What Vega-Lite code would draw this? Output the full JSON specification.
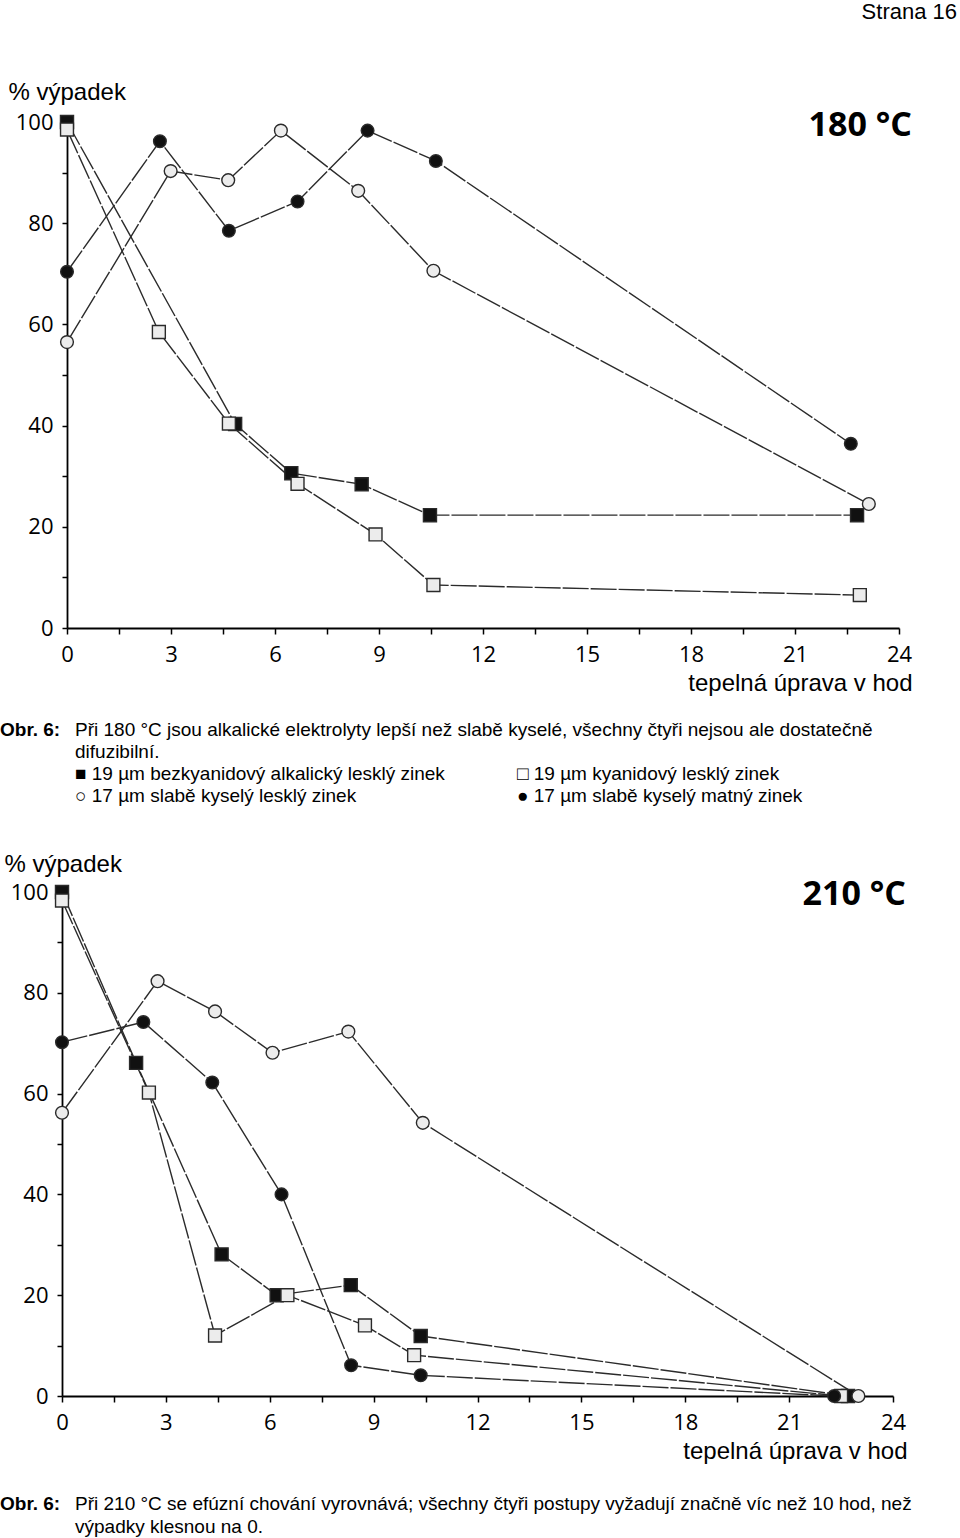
{
  "$schema": "https://vega.github.io/schema/vega-lite/v6.json",
  "padding": {"top": 1, "left": 0, "right": 0, "bottom": 0},
  "background": "white",
  "title": {"text": "Strana 16", "anchor": "end", "frame": "bounds", "font": "Liberation Sans", "fontSize": 22, "fontWeight": "normal", "color": "black", "offset": 0, "dx": -3},
  "spacing": 0,
  "bounds": "flush",
  "datasets": {
    "d180": [
      {"s": "19 µm bezkyanidový alkalický lesklý zinek", "t": 0, "v": 100},
      {"s": "19 µm bezkyanidový alkalický lesklý zinek", "t": 4.85, "v": 40.3},
      {"s": "19 µm bezkyanidový alkalický lesklý zinek", "t": 6.47, "v": 30.6},
      {"s": "19 µm bezkyanidový alkalický lesklý zinek", "t": 8.5, "v": 28.4},
      {"s": "19 µm bezkyanidový alkalický lesklý zinek", "t": 10.47, "v": 22.3},
      {"s": "19 µm bezkyanidový alkalický lesklý zinek", "t": 22.79, "v": 22.3},
      {"s": "19 µm kyanidový lesklý zinek", "t": 0, "v": 98.5},
      {"s": "19 µm kyanidový lesklý zinek", "t": 2.65, "v": 58.5},
      {"s": "19 µm kyanidový lesklý zinek", "t": 4.67, "v": 40.4},
      {"s": "19 µm kyanidový lesklý zinek", "t": 6.65, "v": 28.5},
      {"s": "19 µm kyanidový lesklý zinek", "t": 8.9, "v": 18.5},
      {"s": "19 µm kyanidový lesklý zinek", "t": 10.57, "v": 8.5},
      {"s": "19 µm kyanidový lesklý zinek", "t": 22.87, "v": 6.5},
      {"s": "17 µm slabě kyselý lesklý zinek", "t": 0, "v": 56.5},
      {"s": "17 µm slabě kyselý lesklý zinek", "t": 2.99, "v": 90.3},
      {"s": "17 µm slabě kyselý lesklý zinek", "t": 4.65, "v": 88.5},
      {"s": "17 µm slabě kyselý lesklý zinek", "t": 6.17, "v": 98.3},
      {"s": "17 µm slabě kyselý lesklý zinek", "t": 8.4, "v": 86.4},
      {"s": "17 µm slabě kyselý lesklý zinek", "t": 10.57, "v": 70.6},
      {"s": "17 µm slabě kyselý lesklý zinek", "t": 23.13, "v": 24.5},
      {"s": "17 µm slabě kyselý matný zinek", "t": 0, "v": 70.4},
      {"s": "17 µm slabě kyselý matný zinek", "t": 2.68, "v": 96.2},
      {"s": "17 µm slabě kyselý matný zinek", "t": 4.67, "v": 78.5},
      {"s": "17 µm slabě kyselý matný zinek", "t": 6.65, "v": 84.3},
      {"s": "17 µm slabě kyselý matný zinek", "t": 8.67, "v": 98.3},
      {"s": "17 µm slabě kyselý matný zinek", "t": 10.64, "v": 92.3},
      {"s": "17 µm slabě kyselý matný zinek", "t": 22.61, "v": 36.4}
    ],
    "d210": [
      {"s": "19 µm bezkyanidový alkalický lesklý zinek", "t": 0, "v": 100},
      {"s": "19 µm bezkyanidový alkalický lesklý zinek", "t": 2.14, "v": 66.1},
      {"s": "19 µm bezkyanidový alkalický lesklý zinek", "t": 4.61, "v": 28.1},
      {"s": "19 µm bezkyanidový alkalický lesklý zinek", "t": 6.2, "v": 20},
      {"s": "19 µm bezkyanidový alkalický lesklý zinek", "t": 8.34, "v": 22},
      {"s": "19 µm bezkyanidový alkalický lesklý zinek", "t": 10.36, "v": 11.9},
      {"s": "19 µm bezkyanidový alkalický lesklý zinek", "t": 22.7, "v": 0},
      {"s": "19 µm kyanidový lesklý zinek", "t": 0, "v": 98.3},
      {"s": "19 µm kyanidový lesklý zinek", "t": 2.51, "v": 60.2},
      {"s": "19 µm kyanidový lesklý zinek", "t": 4.42, "v": 12},
      {"s": "19 µm kyanidový lesklý zinek", "t": 6.51, "v": 20},
      {"s": "19 µm kyanidový lesklý zinek", "t": 8.75, "v": 14},
      {"s": "19 µm kyanidový lesklý zinek", "t": 10.17, "v": 8.1},
      {"s": "19 µm kyanidový lesklý zinek", "t": 22.5, "v": 0},
      {"s": "17 µm slabě kyselý lesklý zinek", "t": 0, "v": 56.2},
      {"s": "17 µm slabě kyselý lesklý zinek", "t": 2.76, "v": 82.3},
      {"s": "17 µm slabě kyselý lesklý zinek", "t": 4.42, "v": 76.3},
      {"s": "17 µm slabě kyselý lesklý zinek", "t": 6.08, "v": 68.1},
      {"s": "17 µm slabě kyselý lesklý zinek", "t": 8.27, "v": 72.3},
      {"s": "17 µm slabě kyselý lesklý zinek", "t": 10.42, "v": 54.2},
      {"s": "17 µm slabě kyselý lesklý zinek", "t": 23.0, "v": 0},
      {"s": "17 µm slabě kyselý matný zinek", "t": 0, "v": 70.2},
      {"s": "17 µm slabě kyselý matný zinek", "t": 2.35, "v": 74.2},
      {"s": "17 µm slabě kyselý matný zinek", "t": 4.34, "v": 62.2},
      {"s": "17 µm slabě kyselý matný zinek", "t": 6.34, "v": 40},
      {"s": "17 µm slabě kyselý matný zinek", "t": 8.35, "v": 6.1},
      {"s": "17 µm slabě kyselý matný zinek", "t": 10.36, "v": 4.1},
      {"s": "17 µm slabě kyselý matný zinek", "t": 22.3, "v": 0}
    ],
    "cap1": [
      {"col": 0, "line": 1, "bold": true, "text": "Obr. 6:"},
      {"col": 1, "line": 1, "bold": false, "text": "Při 180 °C jsou alkalické elektrolyty lepší než slabě kyselé, všechny čtyři nejsou ale dostatečně"},
      {"col": 1, "line": 2, "bold": false, "text": "difuzibilní."},
      {"col": 1, "line": 3, "bold": false, "text": "■ 19 µm bezkyanidový alkalický lesklý zinek"},
      {"col": 2, "line": 3, "bold": false, "text": "□ 19 µm kyanidový lesklý zinek"},
      {"col": 1, "line": 4, "bold": false, "text": "○ 17 µm slabě kyselý lesklý zinek"},
      {"col": 2, "line": 4, "bold": false, "text": "● 17 µm slabě kyselý matný zinek"}
    ],
    "cap2": [
      {"col": 0, "line": 1, "bold": true, "text": "Obr. 6:"},
      {"col": 1, "line": 1, "bold": false, "text": "Při 210 °C se efúzní chování vyrovnává; všechny čtyři postupy vyžadují značně víc než 10 hod, než"},
      {"col": 1, "line": 2, "bold": false, "text": "výpadky klesnou na 0."}
    ]
  },
  "vconcat": [
    {"width": 960, "height": 98, "data": {"values": []}, "mark": "point"},
    {
      "width": 960,
      "height": 506,
      "data": {"name": "d180"},
      "layer": [
        {"mark": {"type": "line", "color": "#2b2b2b", "strokeWidth": 1.4, "strokeDash": [26, 2]},
         "encoding": {
           "x": {"field": "t", "type": "quantitative", "scale": {"domain": [0, 24], "range": [67, 899], "nice": false},
             "axis": {"title": "tepelná úprava v hod", "values": [0, 1.5, 3, 4.5, 6, 7.5, 9, 10.5, 12, 13.5, 15, 16.5, 18, 19.5, 21, 22.5, 24],
               "labelExpr": "datum.value % 3 === 0 ? datum.label : ''", "labelFlush": false, "labelOverlap": false, "grid": false,
               "tickSize": 6, "tickWidth": 1.5, "tickColor": "black", "domainColor": "black", "domainWidth": 1.8,
               "labelFont": "Open Sans", "labelFontSize": 22, "labelColor": "black", "labelPadding": 10,
               "titleFont": "Liberation Sans", "titleFontSize": 24, "titleFontWeight": "normal", "titleColor": "black",
               "titleAlign": "right", "titleX": 912, "titleY": 62, "titleBaseline": "alphabetic"}},
           "y": {"field": "v", "type": "quantitative", "scale": {"domain": [0, 100], "nice": false},
             "axis": {"title": "% výpadek", "offset": -67, "values": [0, 10, 20, 30, 40, 50, 60, 70, 80, 90, 100],
               "labelExpr": "datum.value % 20 === 0 ? datum.label : ''", "labelFlush": false, "labelOverlap": false, "grid": false,
               "tickSize": 5, "tickWidth": 1.5, "tickColor": "black", "domainColor": "black", "domainWidth": 1.8,
               "labelFont": "Open Sans", "labelFontSize": 22, "labelColor": "black", "labelPadding": 9,
               "titleFont": "Liberation Sans", "titleFontSize": 24, "titleFontWeight": "normal", "titleColor": "black",
               "titleAngle": 0, "titleAlign": "left", "titleBaseline": "alphabetic", "titleX": -59, "titleY": -23}},
           "detail": {"field": "s"}
         }},
        {"mark": {"type": "point", "filled": true, "stroke": "#2a2a2a", "strokeWidth": 1.4, "opacity": 1},
         "encoding": {
           "x": {"field": "t", "type": "quantitative"},
           "y": {"field": "v", "type": "quantitative"},
           "shape": {"field": "s", "type": "nominal",
             "scale": {"domain": ["19 µm bezkyanidový alkalický lesklý zinek", "19 µm kyanidový lesklý zinek", "17 µm slabě kyselý lesklý zinek", "17 µm slabě kyselý matný zinek"], "range": ["square", "square", "circle", "circle"]},
             "legend": null},
           "fill": {"field": "s", "type": "nominal",
             "scale": {"domain": ["19 µm bezkyanidový alkalický lesklý zinek", "19 µm kyanidový lesklý zinek", "17 µm slabě kyselý lesklý zinek", "17 µm slabě kyselý matný zinek"], "range": ["#111111", "#ececec", "#ececec", "#111111"]},
             "legend": null},
           "size": {"field": "s", "type": "nominal",
             "scale": {"domain": ["19 µm bezkyanidový alkalický lesklý zinek", "19 µm kyanidový lesklý zinek", "17 µm slabě kyselý lesklý zinek", "17 µm slabě kyselý matný zinek"], "range": [170, 160, 165, 120]},
             "legend": null}
         }},
        {"data": {"values": [{"label": "180 °C"}]},
         "mark": {"type": "text", "font": "Open Sans", "fontWeight": "bold", "fontSize": 34, "align": "right", "baseline": "middle", "dx": 13, "dy": 4, "color": "black"},
         "encoding": {"x": {"datum": 24, "type": "quantitative"}, "y": {"datum": 100, "type": "quantitative"}, "text": {"field": "label"}}}
      ]
    },
    {
      "width": 960,
      "height": 264,
      "data": {"name": "cap1"},
      "encoding": {
        "x": {"field": "col", "type": "quantitative", "scale": {"domain": [0, 1, 2], "range": [0, 75, 517]}, "axis": null},
        "y": {"field": "line", "type": "quantitative", "scale": {"domain": [1, 4], "range": [102, 168]}, "axis": null},
        "text": {"field": "text"}
      },
      "layer": [
        {"transform": [{"filter": "datum.bold"}],
         "mark": {"type": "text", "align": "left", "baseline": "middle", "font": "Liberation Sans", "fontSize": 19, "fontWeight": "bold", "color": "black"}},
        {"transform": [{"filter": "!datum.bold"}],
         "mark": {"type": "text", "align": "left", "baseline": "middle", "font": "Liberation Sans", "fontSize": 19, "fontWeight": "normal", "color": "black"}}
      ]
    },
    {
      "width": 960,
      "height": 504,
      "data": {"name": "d210"},
      "layer": [
        {"mark": {"type": "line", "color": "#2b2b2b", "strokeWidth": 1.4, "strokeDash": [26, 2]},
         "encoding": {
           "x": {"field": "t", "type": "quantitative", "scale": {"domain": [0, 24], "range": [62, 893], "nice": false},
             "axis": {"title": "tepelná úprava v hod", "values": [0, 1.5, 3, 4.5, 6, 7.5, 9, 10.5, 12, 13.5, 15, 16.5, 18, 19.5, 21, 22.5, 24],
               "labelExpr": "datum.value % 3 === 0 ? datum.label : ''", "labelFlush": false, "labelOverlap": false, "grid": false,
               "tickSize": 6, "tickWidth": 1.5, "tickColor": "black", "domainColor": "black", "domainWidth": 1.8,
               "labelFont": "Open Sans", "labelFontSize": 22, "labelColor": "black", "labelPadding": 10,
               "titleFont": "Liberation Sans", "titleFontSize": 24, "titleFontWeight": "normal", "titleColor": "black",
               "titleAlign": "right", "titleX": 907, "titleY": 62, "titleBaseline": "alphabetic"}},
           "y": {"field": "v", "type": "quantitative", "scale": {"domain": [0, 100], "nice": false},
             "axis": {"title": "% výpadek", "offset": -62, "values": [0, 10, 20, 30, 40, 50, 60, 70, 80, 90, 100],
               "labelExpr": "datum.value % 20 === 0 ? datum.label : ''", "labelFlush": false, "labelOverlap": false, "grid": false,
               "tickSize": 5, "tickWidth": 1.5, "tickColor": "black", "domainColor": "black", "domainWidth": 1.8,
               "labelFont": "Open Sans", "labelFontSize": 22, "labelColor": "black", "labelPadding": 9,
               "titleFont": "Liberation Sans", "titleFontSize": 24, "titleFontWeight": "normal", "titleColor": "black",
               "titleAngle": 0, "titleAlign": "left", "titleBaseline": "alphabetic", "titleX": -58, "titleY": -21}},
           "detail": {"field": "s"}
         }},
        {"mark": {"type": "point", "filled": true, "stroke": "#2a2a2a", "strokeWidth": 1.4, "opacity": 1},
         "encoding": {
           "x": {"field": "t", "type": "quantitative"},
           "y": {"field": "v", "type": "quantitative"},
           "shape": {"field": "s", "type": "nominal",
             "scale": {"domain": ["19 µm bezkyanidový alkalický lesklý zinek", "19 µm kyanidový lesklý zinek", "17 µm slabě kyselý lesklý zinek", "17 µm slabě kyselý matný zinek"], "range": ["square", "square", "circle", "circle"]},
             "legend": null},
           "fill": {"field": "s", "type": "nominal",
             "scale": {"domain": ["19 µm bezkyanidový alkalický lesklý zinek", "19 µm kyanidový lesklý zinek", "17 µm slabě kyselý lesklý zinek", "17 µm slabě kyselý matný zinek"], "range": ["#111111", "#ececec", "#ececec", "#111111"]},
             "legend": null},
           "size": {"field": "s", "type": "nominal",
             "scale": {"domain": ["19 µm bezkyanidový alkalický lesklý zinek", "19 µm kyanidový lesklý zinek", "17 µm slabě kyselý lesklý zinek", "17 µm slabě kyselý matný zinek"], "range": [170, 160, 165, 120]},
             "legend": null}
         }},
        {"data": {"values": [{"label": "210 °C"}]},
         "mark": {"type": "text", "font": "Open Sans", "fontWeight": "bold", "fontSize": 34, "align": "right", "baseline": "middle", "dx": 13, "dy": 3, "color": "black"},
         "encoding": {"x": {"datum": 24, "type": "quantitative"}, "y": {"datum": 100, "type": "quantitative"}, "text": {"field": "label"}}}
      ]
    },
    {
      "width": 960,
      "height": 143,
      "data": {"name": "cap2"},
      "encoding": {
        "x": {"field": "col", "type": "quantitative", "scale": {"domain": [0, 1, 2], "range": [0, 75, 517]}, "axis": null},
        "y": {"field": "line", "type": "quantitative", "scale": {"domain": [1, 2], "range": [108, 131]}, "axis": null},
        "text": {"field": "text"}
      },
      "layer": [
        {"transform": [{"filter": "datum.bold"}],
         "mark": {"type": "text", "align": "left", "baseline": "middle", "font": "Liberation Sans", "fontSize": 19, "fontWeight": "bold", "color": "black"}},
        {"transform": [{"filter": "!datum.bold"}],
         "mark": {"type": "text", "align": "left", "baseline": "middle", "font": "Liberation Sans", "fontSize": 19, "fontWeight": "normal", "color": "black"}}
      ]
    }
  ],
  "config": {
    "view": {"stroke": null},
    "axis": {"grid": false}
  }
}
